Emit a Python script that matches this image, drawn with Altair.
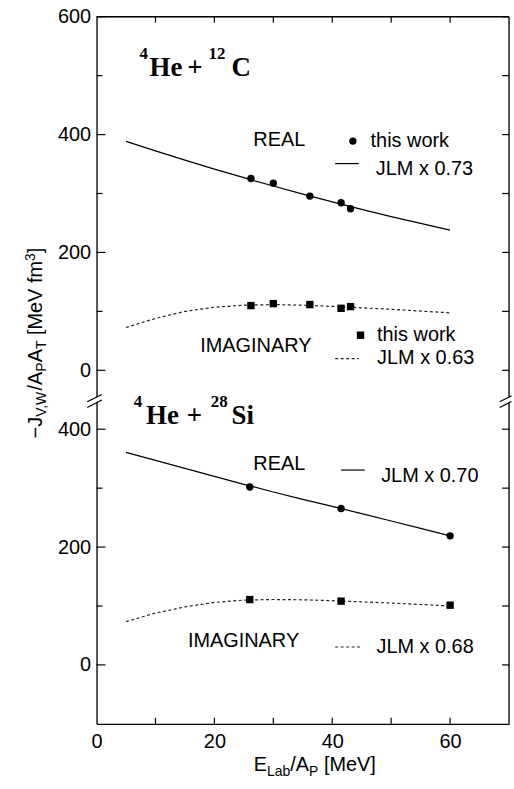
import altair as alt
import pandas as pd

# ---------------- data ----------------
# JLM folding-model volume integrals (scaled), E/A in MeV
jlm_e = [5, 10, 15, 20, 25, 30, 35, 40, 45, 50, 55, 60]
c_jlm_real = [388.5, 372.4, 356.7, 341.5, 326.9, 312.7, 299.0, 285.8, 273.1, 260.9, 249.2, 238.0]
c_jlm_imag = [72.6, 88.0, 100.0, 107.0, 110.5, 111.5, 110.5, 108.5, 106.0, 103.5, 100.5, 97.5]
si_jlm_real = [360.6, 347.0, 333.5, 320.0, 306.5, 293.5, 281.0, 269.0, 256.8, 244.3, 231.7, 219.0]
si_jlm_imag = [73.5, 88.0, 98.5, 106.0, 110.0, 111.0, 110.5, 109.0, 107.0, 105.0, 102.5, 100.0]

# this work: 4He + 12C
c_e = [26.2, 30.0, 36.2, 41.5, 43.1]
c_real = [325.5, 317.6, 295.6, 284.3, 274.2]
c_imag = [109.8, 113.2, 111.5, 105.2, 108.1]

# this work: 4He + 28Si
si_e = [26.0, 41.5, 60.0]
si_real = [302.0, 265.4, 219.0]
si_imag = [110.9, 108.2, 101.4]

# axis ticks (values of each panel)
x_ticks = [10, 20, 30, 40, 50, 60]
x_tick_labels = [0, 20, 40, 60]
c_major = [0, 200, 400, 600]
c_minor = [100, 300, 500]
si_major = [0, 200, 400]
si_minor = [100, 300]

# ---------------- layout ----------------
W = 414.4
H = 710.4
SANS = "Liberation Sans"
SERIF = "Liberation Serif"
# both panels share one y scale; the 28Si panel sits 500 units lower
SHIFT_EXPR = "datum.panel == 'Si' ? datum.v - 500 : datum.v"

xs = alt.Scale(domain=[0, 70], nice=False, zero=False)
ys = alt.Scale(domain=[-600, 600], nice=False, zero=False)

x_axis = alt.Axis(values=x_tick_labels, title=None, ticks=False, tickSize=0, grid=False,
                  labelFont=SANS, labelFontSize=20, labelColor="black", labelPadding=8,
                  labelFlush=False, domainColor="black", domainWidth=1.3)
y_axis = alt.Axis(values=[-500, -300, -100, 0, 200, 400, 600], title=None, ticks=False, tickSize=0,
                  grid=False, labelFont=SANS, labelFontSize=20, labelColor="black", labelPadding=6,
                  labelExpr="format(datum.value < -50 ? datum.value + 500 : datum.value, 'd')",
                  domainColor="black", domainWidth=1.3)


def X(f):
    return alt.X(f, type="quantitative", scale=xs, axis=x_axis)


def Y(f):
    return alt.Y(f, type="quantitative", scale=ys, axis=y_axis)


def frame(rows):
    return pd.DataFrame(rows)


# curves
curves = []
for e, vr, vi, vr2, vi2 in zip(jlm_e, c_jlm_real, c_jlm_imag, si_jlm_real, si_jlm_imag):
    curves.append({"e": e, "v": vr, "panel": "C", "part": "real"})
    curves.append({"e": e, "v": vi, "panel": "C", "part": "imag"})
    curves.append({"e": e, "v": vr2, "panel": "Si", "part": "real"})
    curves.append({"e": e, "v": vi2, "panel": "Si", "part": "imag"})
curves = frame(curves)

points = []
for e, vr, vi in zip(c_e, c_real, c_imag):
    points.append({"e": e, "v": vr, "panel": "C", "part": "real"})
    points.append({"e": e, "v": vi, "panel": "C", "part": "imag"})
for e, vr, vi in zip(si_e, si_real, si_imag):
    points.append({"e": e, "v": vr, "panel": "Si", "part": "real"})
    points.append({"e": e, "v": vi, "panel": "Si", "part": "imag"})
points = frame(points)

real_line = alt.Chart(curves).transform_filter("datum.part == 'real'").transform_calculate(
    yp=SHIFT_EXPR).mark_line(color="black", strokeWidth=1.2).encode(
    x=X("e"), y=Y("yp:Q"), detail="panel:N")
imag_line = alt.Chart(curves).transform_filter("datum.part == 'imag'").transform_calculate(
    yp=SHIFT_EXPR).mark_line(color="#222", strokeWidth=1.2, strokeDash=[3, 2.5]).encode(
    x=X("e"), y=Y("yp:Q"), detail="panel:N")
real_pts = alt.Chart(points).transform_filter("datum.part == 'real'").transform_calculate(
    yp=SHIFT_EXPR).mark_point(shape="circle", filled=True, color="black", size=55, opacity=1).encode(
    x=X("e"), y=Y("yp:Q"))
imag_pts = alt.Chart(points).transform_filter("datum.part == 'imag'").transform_calculate(
    yp=SHIFT_EXPR).mark_point(shape="square", filled=True, color="black", size=55, opacity=1).encode(
    x=X("e"), y=Y("yp:Q"))

# in-panel labels
sans_txt = frame([
    {"x": 26.6, "v": 380.0, "panel": "C", "t": "REAL"},
    {"x": 46.5, "v": 378.9, "panel": "C", "t": "this work"},
    {"x": 47.4, "v": 331.0, "panel": "C", "t": "JLM x 0.73"},
    {"x": 17.6, "v": 31.6, "panel": "C", "t": "IMAGINARY"},
    {"x": 47.6, "v": 49.5, "panel": "C", "t": "this work"},
    {"x": 47.6, "v": 10.1, "panel": "C", "t": "JLM x 0.63"},
    {"x": 26.6, "v": 330.7, "panel": "Si", "t": "REAL"},
    {"x": 48.3, "v": 311.0, "panel": "Si", "t": "JLM x 0.70"},
    {"x": 15.5, "v": 30.4, "panel": "Si", "t": "IMAGINARY"},
    {"x": 47.5, "v": 19.6, "panel": "Si", "t": "JLM x 0.68"},
])
serif_txt = frame([
    {"x": 9.0, "v": 500.0, "panel": "C", "t": "He"},
    {"x": 15.4, "v": 500.0, "panel": "C", "t": "+"},
    {"x": 22.9, "v": 500.0, "panel": "C", "t": "C"},
    {"x": 8.4, "v": 409.6, "panel": "Si", "t": "He"},
    {"x": 15.3, "v": 409.6, "panel": "Si", "t": "+"},
    {"x": 22.9, "v": 409.6, "panel": "Si", "t": "Si"},
])
sup_txt = frame([
    {"x": 7.3, "v": 528.0, "panel": "C", "t": "4"},
    {"x": 19.0, "v": 528.0, "panel": "C", "t": "12"},
    {"x": 6.3, "v": 437.9, "panel": "Si", "t": "4"},
    {"x": 19.4, "v": 437.9, "panel": "Si", "t": "28"},
])


def text_layer(df, font, size, weight):
    return alt.Chart(df).transform_calculate(yp=SHIFT_EXPR).mark_text(
        font=font, fontSize=size, fontWeight=weight, align="left", baseline="alphabetic",
        color="black").encode(x=X("x"), y=Y("yp:Q"), text="t:N")


labels = [text_layer(sans_txt, SANS, 20, "normal"),
          text_layer(serif_txt, SERIF, 27, "bold"),
          text_layer(sup_txt, SERIF, 17, "bold")]

# legend keys
key_pts = frame([
    {"x": 43.5, "v": 389.0, "panel": "C", "shape": "circle"},
    {"x": 44.8, "v": 59.6, "panel": "C", "shape": "square"},
])
key_circle = alt.Chart(key_pts).transform_filter("datum.shape == 'circle'").transform_calculate(
    yp=SHIFT_EXPR).mark_point(shape="circle", filled=True, color="black", size=55, opacity=1).encode(
    x=X("x"), y=Y("yp:Q"))
key_square = alt.Chart(key_pts).transform_filter("datum.shape == 'square'").transform_calculate(
    yp=SHIFT_EXPR).mark_point(shape="square", filled=True, color="black", size=55, opacity=1).encode(
    x=X("x"), y=Y("yp:Q"))
key_lines = frame([
    {"x": 40.5, "x2": 44.5, "v": 350.8, "panel": "C", "part": "real"},
    {"x": 40.5, "x2": 44.5, "v": 19.8, "panel": "C", "part": "imag"},
    {"x": 41.5, "x2": 45.5, "v": 330.7, "panel": "Si", "part": "real"},
    {"x": 40.5, "x2": 45.0, "v": 30.4, "panel": "Si", "part": "imag"},
])
key_real = alt.Chart(key_lines).transform_filter("datum.part == 'real'").transform_calculate(
    yp=SHIFT_EXPR).mark_rule(color="black", strokeWidth=1.2).encode(
    x=X("x"), x2="x2:Q", y=Y("yp:Q"))
key_imag = alt.Chart(key_lines).transform_filter("datum.part == 'imag'").transform_calculate(
    yp=SHIFT_EXPR).mark_rule(color="#222", strokeWidth=1.2, strokeDash=[3, 2.5]).encode(
    x=X("x"), x2="x2:Q", y=Y("yp:Q"))

# inward ticks and the top/right frame
ytick_rows = ([{"v": v, "panel": "C", "k": "major"} for v in c_major] +
              [{"v": v, "panel": "C", "k": "minor"} for v in c_minor] +
              [{"v": v, "panel": "Si", "k": "major"} for v in si_major] +
              [{"v": v, "panel": "Si", "k": "minor"} for v in si_minor])
yticks = frame(ytick_rows)


def ytick_layer(kind, x0, x1):
    return alt.Chart(yticks).transform_filter(f"datum.k == '{kind}'").transform_calculate(
        yp=SHIFT_EXPR).mark_rule(color="black", strokeWidth=1.2).encode(
        y=Y("yp:Q"), x=alt.value(x0), x2=alt.value(x1))


xticks = frame([{"x": v} for v in x_ticks])
top_ticks = alt.Chart(xticks).mark_rule(color="black", strokeWidth=1.2).encode(
    x=X("x"), y=alt.value(0), y2=alt.value(6))
bottom_ticks = alt.Chart(xticks).mark_rule(color="black", strokeWidth=1.2).encode(
    x=X("x"), y=alt.value(H - 6), y2=alt.value(H))

top_border = alt.Chart(frame([{"v": 600}])).mark_rule(color="black", strokeWidth=1.3).encode(
    y=Y("v:Q"), x=alt.value(0), x2=alt.value(W))
right_border = alt.Chart(frame([{"x": 70}])).mark_rule(color="black", strokeWidth=1.3).encode(
    x=X("x"), y=alt.value(0), y2=alt.value(H))

# axis break marks where the two panels meet
breaks = frame([
    {"side": "L", "a": -53.5, "b": -41.0, "k": "line"},
    {"side": "L", "a": -63.0, "b": -50.5, "k": "line"},
    {"side": "L", "a": -58.2, "b": -45.7, "k": "mask"},
    {"side": "R", "a": -53.5, "b": -43.4, "k": "line"},
    {"side": "R", "a": -63.0, "b": -52.9, "k": "line"},
    {"side": "R", "a": -58.2, "b": -48.1, "k": "mask"},
])


def break_layer(side, kind, x0, x1):
    color = "white" if kind == "mask" else "black"
    width = 4 if kind == "mask" else 1.2
    return alt.Chart(breaks).transform_filter(
        f"datum.side == '{side}' && datum.k == '{kind}'").mark_rule(
        color=color, strokeWidth=width).encode(
        y=Y("a:Q"), y2="b:Q", x=alt.value(x0), x2=alt.value(x1))


break_layers = [break_layer("L", "mask", -9.4, 5.3), break_layer("L", "line", -9.4, 5.3),
                break_layer("R", "mask", W - 9.4, W + 2.5), break_layer("R", "line", W - 9.4, W + 2.5)]

# axis titles with sub/superscripts, built from pieces; None marks a word space
ADV = {"−": 584, "J": 500, "V": 667, ",": 278, "W": 944, "/": 278, "A": 667, "P": 667,
       "T": 611, "[": 278, "M": 833, "e": 556, "f": 278, "m": 833, "3": 556,
       "]": 278, "E": 667, "L": 556, "a": 556, "b": 556, " ": 278}
SIZES = {"main": 20, "sub": 14, "sup": 14}


def adv(s, kind):
    size = SIZES[kind]
    if s is None:
        return 278 * size / 1000.0
    return sum(ADV[c] for c in s) * size / 1000.0


one = frame([{"k": 0}])


def piece(text, px, py, size, angle=0):
    return alt.Chart(one).mark_text(
        text=text, font=SANS, fontSize=size, align="left", baseline="alphabetic",
        angle=angle, color="black").encode(x=alt.value(px), y=alt.value(py))


ytitle_parts = [("−J", "main"), ("V,W", "sub"), ("/A", "main"), ("P", "sub"), ("A", "main"),
                ("T", "sub"), (None, "main"), ("[MeV fm", "main"), ("3", "sup"), ("]", "main")]
xtitle_parts = [("E", "main"), ("Lab", "sub"), ("/A", "main"), ("P", "sub"), (None, "main"),
                ("[MeV]", "main")]

title_layers = []
total = sum(adv(t, k) for t, k in ytitle_parts)
pos = 327.8 + total / 2
for t, k in ytitle_parts:
    if t is not None:
        bx = -55 + (4.5 if k == "sub" else (-7 if k == "sup" else 0))
        title_layers.append(piece(t, bx, pos, SIZES[k], angle=270))
    pos -= adv(t, k)

total = sum(adv(t, k) for t, k in xtitle_parts)
pos = 219.3 - total / 2
for t, k in xtitle_parts:
    if t is not None:
        by = 757.6 + (5.5 if k == "sub" else 0)
        title_layers.append(piece(t, pos, by, SIZES[k]))
    pos += adv(t, k)

chart = alt.layer(
    real_line, imag_line, real_pts, imag_pts, *labels, key_circle, key_square, key_real, key_imag,
    ytick_layer("major", 0, 9), ytick_layer("minor", 0, 6),
    ytick_layer("major", W - 7, W), ytick_layer("minor", W - 7, W),
    top_ticks, bottom_ticks, top_border, right_border, *break_layers, *title_layers,
).properties(
    width=W, height=H, padding={"left": 24, "top": 5, "right": 0, "bottom": 0}
).configure_view(strokeWidth=0).configure(background="white")

chart.save("out.html", embed_options={"renderer": "svg", "actions": False})
